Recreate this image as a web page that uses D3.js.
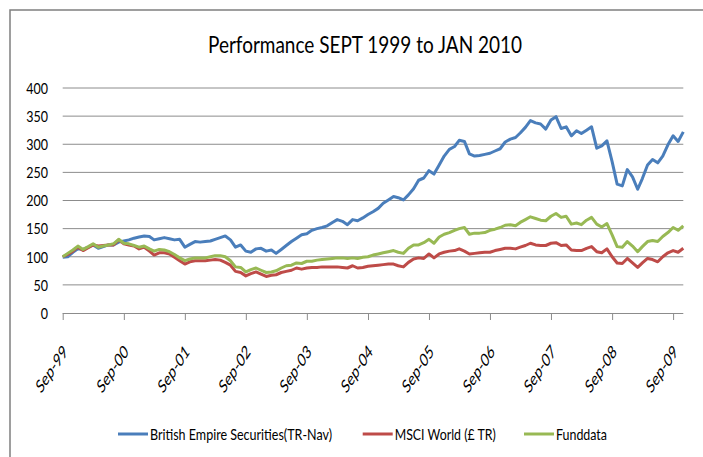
<!DOCTYPE html>
<html lang="en">
<head>
    <meta charset="UTF-8">
    <title>Performance SEPT 1999 to JAN 2010</title>
    <script src="https://d3js.org/d3.v7.min.js"></script>
    <style>
        body { margin: 0; background: #fff; }
        text { font-family: Lato, "Open Sans", sans-serif; fill: #000; }
        .grid line { stroke: #8c8c8c; stroke-width: 1; }
    </style>
</head>
<body>
    <div id="chart"></div>
    <script>
        // monthly values, Sep-99 .. Nov-09
        var britishEmpire = [
            99, 100, 108, 114, 113, 117, 121, 115, 118, 121,
            121, 126, 128, 130, 133, 135, 137, 136, 130, 132,
            134, 132, 130, 131, 117, 122, 127, 126, 127, 128,
            131, 134, 137, 130, 117, 121, 110, 108, 114, 115,
            110, 112, 106, 113, 120, 127, 133, 139, 141, 147,
            150, 152, 155, 161, 166, 163, 157, 166, 164, 169,
            175, 180, 186, 195, 201, 207, 205, 201, 210, 221,
            236, 240, 253, 247, 263, 279, 291, 296, 307, 305,
            283, 279, 280, 282, 284, 288, 292, 304, 309, 312,
            320, 330, 342, 338, 336, 327, 343, 349, 328, 331,
            315, 324, 319, 325, 331, 293, 297, 306, 269, 229,
            226, 255, 242, 220, 239, 263, 273, 267, 279, 299,
            315, 305, 322
        ];
        var msciWorld = [
            100, 104, 110, 117, 111, 116, 121, 119, 120, 121,
            121, 130, 123, 121, 119, 114, 117, 110, 103, 107,
            107, 105, 99, 93, 87, 91, 93, 93, 93, 94,
            95, 94, 90, 85, 74, 72, 66, 70, 73, 69,
            65, 67, 68, 72, 74, 76, 80, 78, 80, 81,
            81, 82, 82, 82, 82, 81, 80, 84, 80, 81,
            83, 84, 85, 86, 87, 87, 84, 82, 90, 96,
            98, 97, 105, 98, 105, 108, 110, 111, 114, 110,
            105, 106, 107, 108, 108, 111, 113, 115, 115, 114,
            117, 120, 124, 121, 120, 120, 124, 125, 120, 121,
            112, 111, 111, 115, 118, 109, 107, 114, 100, 89,
            88, 97, 89, 81, 89, 97, 95, 91, 100, 107,
            111, 108, 115
        ];
        var funddata = [
            100, 106, 112, 119, 113, 118, 123, 117, 119, 121,
            123, 131, 124, 123, 120, 117, 119, 114, 110, 113,
            112, 109, 104, 98, 93, 96, 98, 98, 98, 100,
            102, 102, 100, 93, 82, 81, 73, 77, 80, 76,
            72, 73, 75, 80, 84, 85, 89, 88, 92, 92,
            94, 95, 96, 97, 98, 98, 97, 98, 97, 99,
            100, 103, 105, 107, 109, 111, 108, 106, 115, 121,
            121, 125, 131, 124, 135, 140, 143, 147, 150, 152,
            140, 142, 142, 143, 147, 149, 152, 156, 157, 155,
            161, 166, 171, 168, 165, 164, 172, 177, 170, 172,
            158, 160, 157, 165, 170, 158, 153, 159, 139, 118,
            117, 127, 119, 109, 118, 127, 129, 127, 136, 143,
            152, 147, 155
        ];
        var seriesNames = ["British Empire Securities(TR-Nav)", "MSCI World (\u00a3 TR)", "Funddata"];
        var seriesColors = ["#4a7ebb", "#be4b48", "#98b954"];
        var xTickLabels = ["Sep-99", "Sep-00", "Sep-01", "Sep-02", "Sep-03", "Sep-04",
                           "Sep-05", "Sep-06", "Sep-07", "Sep-08", "Sep-09"];
        var yTicks = [0, 50, 100, 150, 200, 250, 300, 350, 400];

        var months = d3.timeMonth.range(new Date(1999, 8, 1), new Date(2009, 11, 1));
        var xTickDates = xTickLabels.map(function(d, i) { return new Date(1999 + i, 8, 1); });

        var W = 703, H = 457;
        var plot = { left: 62.7, right: 683.3, top: 88, bottom: 313 };
        var squeeze = 0.66;   // the picture is narrowed horizontally

        var svg = d3.select("#chart").append("svg")
            .attr("width", W)
            .attr("height", H);

        // chart frame (only top and left edges show)
        svg.append("rect")
            .attr("x", 10).attr("y", 10)
            .attr("width", W + 20).attr("height", H + 20)
            .attr("fill", "none")
            .attr("stroke", "#7f7f7f")
            .attr("stroke-width", 1.5);

        var x = d3.scaleTime()
            .domain([months[0], months[months.length - 1]])
            .range([plot.left, plot.right]);

        var y = d3.scaleLinear()
            .domain([0, 400])
            .range([plot.bottom, plot.top]);

        // gridlines
        svg.append("g")
            .attr("class", "grid")
            .selectAll("line")
            .data(yTicks.filter(function(d) { return d > 0; }))
            .enter().append("line")
            .attr("x1", plot.left).attr("x2", plot.right)
            .attr("y1", function(d) { return y(d); })
            .attr("y2", function(d) { return y(d); });

        // y labels
        svg.append("g")
            .selectAll("text")
            .data(yTicks)
            .enter().append("text")
            .attr("transform", function(d) { return "translate(48," + y(d) + ") scale(0.78,1)"; })
            .attr("dy", "0.36em")
            .style("text-anchor", "end")
            .style("font-size", "16px")
            .text(function(d) { return d; });

        // x axis
        var xAxis = svg.append("g")
            .attr("transform", "translate(0," + plot.bottom + ")")
            .call(d3.axisBottom(x)
                .tickValues(xTickDates)
                .tickSize(7)
                .tickSizeOuter(0)
                .tickFormat(function(d, i) { return xTickLabels[i]; }));
        xAxis.select(".domain").attr("stroke", "#8c8c8c").attr("d", "M" + plot.left + ",0.5H" + plot.right);
        xAxis.selectAll(".tick line").attr("stroke", "#8c8c8c");
        xAxis.selectAll(".tick text")
            .attr("x", null).attr("y", null).attr("dy", null)
            .attr("transform", "translate(5,40) scale(" + squeeze + ",1) rotate(-45)")
            .style("text-anchor", "end")
            .style("font-size", "18.5px")
            .style("font-family", "Lato, sans-serif")
            .attr("fill", "#000");

        // lines
        var line = d3.line()
            .x(function(d, i) { return x(months[i]); })
            .y(function(d) { return y(d); });

        svg.append("g")
            .selectAll("path")
            .data([britishEmpire, msciWorld, funddata])
            .enter().append("path")
            .attr("d", function(d) { return line(d); })
            .attr("fill", "none")
            .attr("stroke", function(d, i) { return seriesColors[i]; })
            .attr("stroke-width", 3)
            .attr("stroke-linejoin", "round");

        // title
        svg.append("text")
            .attr("x", 365)
            .attr("y", 53)
            .attr("textLength", 314)
            .attr("lengthAdjust", "spacingAndGlyphs")
            .style("text-anchor", "middle")
            .style("font-size", "23px")
            .text("Performance SEPT 1999 to JAN 2010");

        // legend
        var legendX = [118, 362.7, 524];
        var legendW = [182, 101, 51];
        var legend = svg.append("g")
            .selectAll("g")
            .data(seriesNames)
            .enter().append("g")
            .attr("transform", function(d, i) { return "translate(" + legendX[i] + ",434)"; });

        legend.append("line")
            .attr("x1", 0).attr("x2", 30)
            .attr("stroke", function(d, i) { return seriesColors[i]; })
            .attr("stroke-width", 3);

        legend.append("text")
            .attr("x", 32)
            .attr("y", 6)
            .attr("textLength", function(d, i) { return legendW[i]; })
            .attr("lengthAdjust", "spacingAndGlyphs")
            .style("font-size", "16px")
            .text(function(d) { return d; });
    </script>
</body>
</html>
